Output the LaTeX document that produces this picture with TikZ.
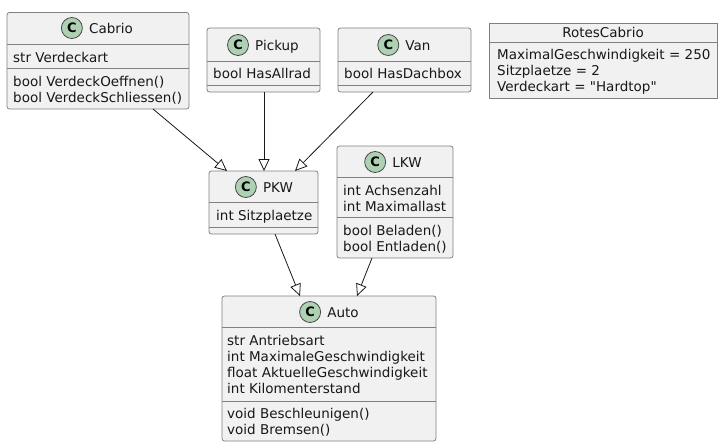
\documentclass[tikz,border=0pt]{standalone}
\usepackage{fontspec}
\setmainfont{DejaVu Sans}
\newfontfamily\umlfont{DejaVu Sans}
\usetikzlibrary{arrows.meta}
\definecolor{boxfill}{HTML}{F1F1F1}
\definecolor{boxline}{HTML}{808080}
\definecolor{cfill}{HTML}{ADD1B2}
\definecolor{ink}{HTML}{181818}
\begin{document}
\begin{tikzpicture}[x=1pt,y=-1pt,
  font=\umlfont\fontsize{13.5}{16}\selectfont,
  cls/.style={draw=boxline, fill=boxfill, rounded corners=2.5pt, line width=0.8pt, inner sep=0pt, outer sep=0pt},
  obj/.style={draw=boxline, fill=boxfill, line width=0.8pt, inner sep=0pt, outer sep=0pt},
  sep/.style={draw=boxline, line width=0.8pt},
  cicon/.style={circle, draw=ink!80, fill=cfill, line width=0.8pt, minimum size=21pt, inner sep=0pt, font=\umlfont\bfseries\fontsize{13}{13}\selectfont},
  cname/.style={anchor=base, inner sep=0pt, text=ink},
  txt/.style={anchor=base west, inner sep=0pt, text=ink},
  inh/.style={draw=ink, line width=0.8pt, -{Triangle[open, length=12pt, width=11pt, fill=white]}}
]
\useasboundingbox (0,0) rectangle (723,447);

% ---------- Cabrio ----------
\node[cls, minimum width=182pt, minimum height=96.5pt] (cabrio) at (98,60.75) {};
\draw[sep] (cabrio.west |- 0,44) -- (cabrio.east |- 0,44);
\draw[sep] (cabrio.west |- 0,68) -- (cabrio.east |- 0,68);
\node[cname] (cabrioN) at (111,33) {Cabrio};
\node[cicon] (cabrioC) at ([xshift=-17pt]cabrioN.west |- 0,28) {C};
\node[txt] (cabrioA1) at (13,62) {str Verdeckart};
\node[txt] (cabrioM1) at (13,86) {bool VerdeckOeffnen()};
\node[txt] (cabrioM2) at (13,102) {bool VerdeckSchliessen()};

% ---------- Pickup ----------
\node[cls, minimum width=113pt, minimum height=64pt] (pickup) at (263.5,60) {};
\draw[sep] (pickup.west |- 0,61) -- (pickup.east |- 0,61);
\draw[sep] (pickup.west |- 0,85) -- (pickup.east |- 0,85);
\node[cname] (pickupN) at (277,50) {Pickup};
\node[cicon] (pickupC) at ([xshift=-17pt]pickupN.west |- 0,45) {C};
\node[txt] (pickupA1) at (213,78) {bool HasAllrad};

% ---------- Van ----------
\node[cls, minimum width=133pt, minimum height=64pt] (van) at (404.5,60) {};
\draw[sep] (van.west |- 0,61) -- (van.east |- 0,61);
\draw[sep] (van.west |- 0,85) -- (van.east |- 0,85);
\node[cname] (vanN) at (418,50) {Van};
\node[cicon] (vanC) at ([xshift=-17pt]vanN.west |- 0,45) {C};
\node[txt] (vanA1) at (344,78) {bool HasDachbox};

% ---------- RotesCabrio ----------
\node[obj, minimum width=228pt, minimum height=75pt] (rotes) at (603,60.5) {};
\draw[sep] (rotes.west |- 0,42) -- (rotes.east |- 0,42);
\node[cname] (rotesN) at (603,37) {RotesCabrio};
\node[txt] (rotesA1) at (497,59) {MaximalGeschwindigkeit = 250};
\node[txt] (rotesA2) at (497,75) {Sitzplaetze = 2};
\node[txt] (rotesA3) at (497,91) {Verdeckart = "Hardtop"};

% ---------- PKW ----------
\node[cls, minimum width=109pt, minimum height=63pt] (pkw) at (263.5,202.5) {};
\draw[sep] (pkw.west |- 0,202.5) -- (pkw.east |- 0,202.5);
\draw[sep] (pkw.west |- 0,227) -- (pkw.east |- 0,227);
\node[cname] (pkwN) at (278,192) {PKW};
\node[cicon] (pkwC) at ([xshift=-17pt]pkwN.west |- 0,187) {C};
\node[txt] (pkwA1) at (216,220) {int Sitzplaetze};

% ---------- LKW ----------
\node[cls, minimum width=116pt, minimum height=112pt] (lkw) at (395,202) {};
\draw[sep] (lkw.west |- 0,177.5) -- (lkw.east |- 0,177.5);
\draw[sep] (lkw.west |- 0,217.5) -- (lkw.east |- 0,217.5);
\node[cname] (lkwN) at (407,167) {LKW};
\node[cicon] (lkwC) at ([xshift=-17pt]lkwN.west |- 0,162) {C};
\node[txt] (lkwA1) at (343,195) {int Achsenzahl};
\node[txt] (lkwA2) at (343,211) {int Maximallast};
\node[txt] (lkwM1) at (343,235) {bool Beladen()};
\node[txt] (lkwM2) at (343,251) {bool Entladen()};

% ---------- Auto ----------
\node[cls, minimum width=214pt, minimum height=145pt] (auto) at (329,368.5) {};
\draw[sep] (auto.west |- 0,327.5) -- (auto.east |- 0,327.5);
\draw[sep] (auto.west |- 0,401) -- (auto.east |- 0,401);
\node[cname] (autoN) at (343,317) {Auto};
\node[cicon] (autoC) at ([xshift=-17pt]autoN.west |- 0,312) {C};
\node[txt] (autoA1) at (227,345) {str Antriebsart};
\node[txt] (autoA2) at (227,361) {int MaximaleGeschwindigkeit};
\node[txt] (autoA3) at (227,377) {float AktuelleGeschwindigkeit};
\node[txt] (autoA4) at (227,393) {int Kilomenterstand};
\node[txt] (autoM1) at (227,418) {void Beschleunigen()};
\node[txt] (autoM2) at (227,434) {void Bremsen()};

% ---------- Inheritance ----------
\draw[inh] ([xshift=55pt]cabrio.south) -- ([xshift=-36.5pt]pkw.north);
\draw[inh] ([xshift=0.5pt]pickup.south) -- ([xshift=0.5pt]pkw.north);
\draw[inh] ([xshift=-31.5pt]van.south) -- ([xshift=31.5pt]pkw.north);
\draw[inh] ([xshift=11.5pt]pkw.south) -- ([xshift=-29pt]auto.north);
\draw[inh] ([xshift=-23pt]lkw.south) -- ([xshift=28pt]auto.north);
\end{tikzpicture}
\end{document}
